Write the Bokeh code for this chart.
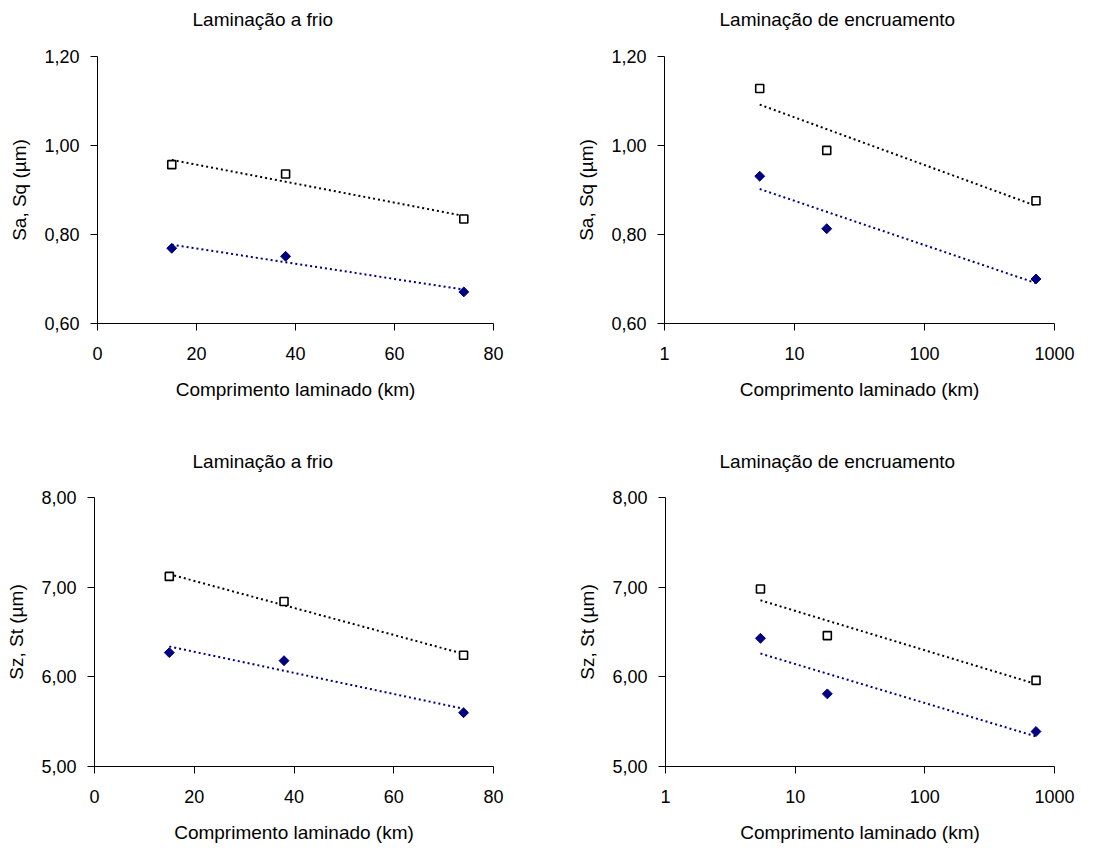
import numpy as np
from bokeh.plotting import figure
from bokeh.layouts import column, row
from bokeh.models import Range1d, FixedTicker, CustomJSTickFormatter
from bokeh.core.properties import value
from bokeh.embed import file_html
from bokeh.resources import INLINE

# ---- data ----
cold_km = [15, 38, 74]
temper_km = [5.4, 17.7, 720]

cold_sa = [0.769, 0.751, 0.671]
cold_sq = [0.957, 0.936, 0.835]
temper_sa = [0.931, 0.813, 0.700]
temper_sq = [1.128, 0.989, 0.876]

cold_sz = [6.27, 6.18, 5.60]
cold_st = [7.12, 6.84, 6.24]
temper_sz = [6.43, 5.81, 5.39]
temper_st = [6.98, 6.46, 5.96]

title_cold = "Laminação a frio"
title_temper = "Laminação de encruamento"
xlabel = "Comprimento laminado (km)"
ylabel_top = "Sa, Sq (µm)"
ylabel_bottom = "Sz, St (µm)"
yticks_top = [0.6, 0.8, 1.0, 1.2]
yticks_bottom = [5.0, 6.0, 7.0, 8.0]
xticks_lin = [0, 20, 40, 60, 80]
xticks_log = [1, 10, 100, 1000]

FONT = "Liberation Sans"
FS_TICK = "18px"
FS_TEXT = "19px"
NAVY = "#000080"


def trend(x, y, log):
    x = np.asarray(x, float)
    y = np.asarray(y, float)
    xs = np.array([x.min(), x.max()])
    if log:
        b, a = np.polyfit(np.log(x), y, 1)
        return xs, a + b * np.log(xs)
    b, a = np.polyfit(x, y, 1)
    return xs, a + b * xs


def title_fig(text, width, height, tx, cy):
    t = figure(width=width, height=height, output_backend="svg",
               toolbar_location=None, min_border=0,
               x_range=Range1d(0, width), y_range=Range1d(0, height),
               x_axis_location=None, y_axis_location=None)
    t.outline_line_color = None
    t.xgrid.visible = False
    t.ygrid.visible = False
    t.text(x=[tx], y=[height - cy], text=[text], text_font=value(FONT),
           text_font_size=value(FS_TEXT), text_color="black",
           text_align="left", text_baseline="middle")
    return t


def make(ylabel, x, s_low, s_high, log, yticks, xticks,
         width, height, bl, br, bt, bb):
    kw = dict(x_axis_type="log") if log else {}
    p = figure(width=width, height=height, output_backend="svg",
               toolbar_location=None, min_border_left=bl, min_border_right=br,
               min_border_top=bt, min_border_bottom=bb,
               x_range=Range1d(xticks[0], xticks[-1]),
               y_range=Range1d(yticks[0], yticks[-1]), **kw)
    p.outline_line_color = None
    p.xgrid.visible = False
    p.ygrid.visible = False
    p.background_fill_color = "white"
    p.border_fill_color = "white"

    p.xaxis.ticker = FixedTicker(ticks=xticks, minor_ticks=[])
    p.yaxis.ticker = FixedTicker(ticks=yticks, minor_ticks=[])
    p.xaxis.formatter = CustomJSTickFormatter(code="return Math.round(tick).toString()")
    p.yaxis.formatter = CustomJSTickFormatter(code="return tick.toFixed(2).replace('.', ',')")
    for ax in (p.xaxis, p.yaxis):
        ax.axis_line_color = "black"
        ax.axis_line_width = 1
        ax.major_tick_line_color = "black"
        ax.major_tick_out = 7
        ax.major_tick_in = 0
        ax.minor_tick_out = 0
        ax.minor_tick_in = 0
        ax.major_label_text_font = FONT
        ax.major_label_text_font_size = FS_TICK
        ax.major_label_text_color = "black"
        ax.axis_label_text_font = FONT
        ax.axis_label_text_font_size = FS_TEXT
        ax.axis_label_text_font_style = "normal"
        ax.axis_label_text_color = "black"
    p.xaxis.axis_label = xlabel
    p.yaxis.axis_label = ylabel
    p.xaxis.major_label_standoff = 16
    p.xaxis.axis_label_standoff = 16
    p.yaxis.major_label_standoff = 11
    p.yaxis.axis_label_standoff = 11

    tx, ty = trend(x, s_high, log)
    p.line(tx, ty, line_color="black", line_width=2, line_dash="2 3")
    tx, ty = trend(x, s_low, log)
    p.line(tx, ty, line_color=NAVY, line_width=2, line_dash="2 3")

    p.scatter(x, s_high, marker="square", size=8, fill_color="white",
              line_color="black", line_width=1.6)
    p.scatter(x, s_low, marker="square", angle=np.pi / 4, size=7,
              fill_color=NAVY, line_color=NAVY, line_width=1)
    return p


t1 = title_fig(title_cold, 564, 38, 192, 19)
t2 = title_fig(title_temper, 541, 38, 155, 19)
p1 = make(ylabel_top, cold_km, cold_sa, cold_sq, False, yticks_top, xticks_lin,
          564, 400, 97, 71, 18, 115)
p2 = make(ylabel_top, temper_km, temper_sa, temper_sq, True, yticks_top, xticks_log,
          541, 400, 100, 51, 15, 112)
t3 = title_fig(title_cold, 564, 40, 192, 23)
t4 = title_fig(title_temper, 541, 40, 155, 23)
p3 = make(ylabel_bottom, cold_km, cold_sz, cold_st, False, yticks_bottom, xticks_lin,
          564, 370, 94, 71, 17, 82)
p4 = make(ylabel_bottom, temper_km, temper_sz, temper_st, True, yticks_bottom, xticks_log,
          541, 370, 101, 51, 19, 79)

layout = column(row(t1, t2), row(p1, p2), row(t3, t4), row(p3, p4))
open("out.html", "w").write(file_html(layout, INLINE))
